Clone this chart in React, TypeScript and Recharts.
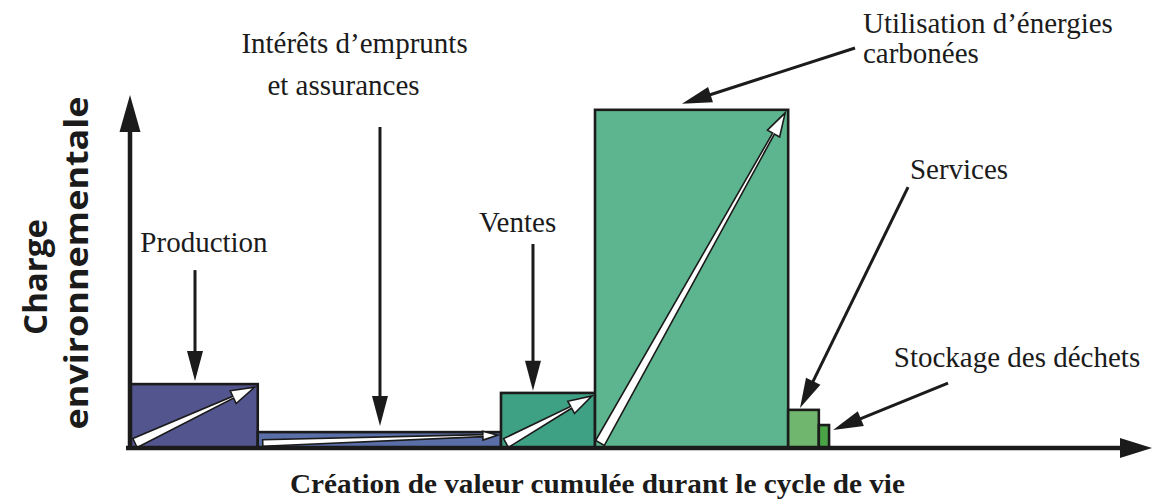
import React from 'react';
import { ComposedChart, XAxis, YAxis, ReferenceArea, ReferenceLine, ReferenceDot } from 'recharts';

// life-cycle stages: width = share of cumulated value, height = environmental load
const STAGES = ['Production', 'Intérêts', 'Ventes', 'Utilisation', 'Services', 'Stockage'];
const WIDTHS = [12.5, 23.8, 9.2, 18.9, 3.0, 1.0];
const HEIGHTS = [18.1, 4.5, 15.6, 95.8, 10.8, 6.5];
const HAS_ARROW = [true, true, true, true, false, false];

// callouts (data coordinates): arrow tail -> arrow tip
const CALLOUT_FROM = [
  [6.36, 50.4],
  [24.46, 90.9],
  [39.43, 57.8],
  [70.94, 113.3],
  [76.13, 73.9],
  [80.04, 18.4],
];
const CALLOUT_TO = [
  [6.36, 19.0],
  [24.46, 6.2],
  [39.43, 16.2],
  [54.01, 97.5],
  [65.56, 11.3],
  [68.79, 5.1],
];

const LABELS = [
  'Production',
  'Intérêts d’emprunts',
  'et assurances',
  'Ventes',
  'Utilisation d’énergies',
  'carbonées',
  'Services',
  'Stockage des déchets',
];
const LABEL_X = [7.24, 21.97, 20.89, 37.92, 71.72, 71.72, 81.12, 86.79];
const LABEL_Y = [55.5, 111.9, 100.0, 61.2, 117.56, 109.07, 76.2, 22.95];
const LABEL_ANCHOR = ['middle', 'middle', 'middle', 'middle', 'start', 'start', 'middle', 'middle'];

const FILLS = ['#53558f', '#5a6ea8', '#3fa184', '#5db58f', '#70b66e', '#4aa445'];
const INK = '#1b1b1b';
const SERIF = "'Liberation Serif', 'Times New Roman', serif";
const SANS = "'Open Sans', sans-serif";

const STARTS = WIDTHS.map((_, i) => WIDTHS.slice(0, i).reduce((a, b) => a + b, 0));

function dir(x1: number, y1: number, x2: number, y2: number) {
  const dx = x2 - x1;
  const dy = y2 - y1;
  const len = Math.hypot(dx, dy) || 1;
  return { ux: dx / len, uy: dy / len, nx: -dy / len, ny: dx / len };
}

const WhiteArrow = ({ x1, y1, x2, y2, tw, hw }: any) => {
  const { ux, uy, nx, ny } = dir(x1, y1, x2, y2);
  const hl = hw * 3.4;
  const bx = x2 - ux * hl;
  const by = y2 - uy * hl;
  const pts = [
    [x1 + nx * tw, y1 + ny * tw],
    [bx + nx * 1, by + ny * 1],
    [bx + nx * hw, by + ny * hw],
    [x2, y2],
    [bx - nx * hw, by - ny * hw],
    [bx - nx * 1, by - ny * 1],
    [x1 - nx * tw, y1 - ny * tw],
  ];
  return (
    <polygon
      points={pts.map((p) => p.join(',')).join(' ')}
      fill="#ffffff"
      stroke={INK}
      strokeWidth={1.6}
      strokeLinejoin="miter"
    />
  );
};

const StageRect = (props: any) => {
  const { x, y, width, height, index } = props;
  const hw = Math.min(7, height * 0.28);
  const tw = Math.min(5, height * 0.2);
  return (
    <g>
      <rect x={x} y={y} width={width} height={height} fill={FILLS[index]} stroke={INK} strokeWidth={2.6} />
      {HAS_ARROW[index] && (
        <WhiteArrow x1={x + 5} y1={y + height - 5} x2={x + width - 3} y2={y + 3} tw={tw} hw={hw} />
      )}
    </g>
  );
};

const BlackArrow = ({ x1, y1, x2, y2, width = 3, hl = 30, hw = 8 }: any) => {
  const { ux, uy, nx, ny } = dir(x1, y1, x2, y2);
  const bx = x2 - ux * hl;
  const by = y2 - uy * hl;
  return (
    <g>
      <line x1={x1} y1={y1} x2={bx + ux * 2} y2={by + uy * 2} stroke={INK} strokeWidth={width} />
      <polygon
        points={`${x2},${y2} ${bx + nx * hw},${by + ny * hw} ${bx - nx * hw},${by - ny * hw}`}
        fill={INK}
      />
    </g>
  );
};

const Caption = ({ cx, cy, text, anchor, rotate, size, family, weight, length }: any) => (
  <text
    x={cx}
    y={cy}
    textAnchor={anchor}
    fontFamily={family}
    fontSize={size}
    fontWeight={weight}
    fill={INK}
    transform={rotate ? `rotate(-90 ${cx} ${cy})` : undefined}
    textLength={length}
    lengthAdjust={length ? 'spacingAndGlyphs' : undefined}
    dominantBaseline={rotate ? 'central' : undefined}
  >
    {text}
  </text>
);

export default function App() {
  return (
    <div style={{ position: 'absolute', left: 0, top: 0, width: 1155, height: 499, background: '#fff' }}>
      <ComposedChart width={1155} height={499} data={[]} margin={{ top: 95, right: 3, bottom: 51, left: 130 }}>
        <XAxis type="number" dataKey="x" domain={[0, 100]} hide allowDataOverflow />
        <YAxis type="number" domain={[0, 100]} hide allowDataOverflow />

        {STAGES.map((s, i) => (
          <ReferenceArea
            key={s}
            x1={STARTS[i]}
            x2={STARTS[i] + WIDTHS[i]}
            y1={0}
            y2={HEIGHTS[i]}
            ifOverflow="visible"
            shape={(p: any) => <StageRect {...p} index={i} />}
          />
        ))}

        {/* axes with arrow heads */}
        <ReferenceLine
          segment={[{ x: 0, y: 0 }, { x: 100, y: 0 }]}
          ifOverflow="visible"
          shape={(p: any) => <BlackArrow {...p} x1={p.x1 - 4} width={4.5} hl={32} hw={10} />}
        />
        <ReferenceLine
          segment={[{ x: 0, y: 0 }, { x: 0, y: 100 }]}
          ifOverflow="visible"
          shape={(p: any) => <BlackArrow {...p} y1={p.y1 + 2} width={4.5} hl={37} hw={10.5} />}
        />

        {CALLOUT_FROM.map((f, i) => (
          <ReferenceLine
            key={`c${i}`}
            segment={[{ x: f[0], y: f[1] }, { x: CALLOUT_TO[i][0], y: CALLOUT_TO[i][1] }]}
            ifOverflow="visible"
            shape={(p: any) => <BlackArrow {...p} width={3} hl={30} hw={8} />}
          />
        ))}

        {LABELS.map((t, i) => (
          <ReferenceDot
            key={`l${i}`}
            x={LABEL_X[i]}
            y={LABEL_Y[i]}
            ifOverflow="visible"
            shape={(p: any) => (
              <Caption cx={p.cx} cy={p.cy} text={t} anchor={LABEL_ANCHOR[i]} size={29} family={SERIF} />
            )}
          />
        ))}

        {/* axis titles */}
        <ReferenceDot
          x={45.74}
          y={-12.75}
          ifOverflow="visible"
          shape={(p: any) => (
            <Caption
              cx={p.cx}
              cy={p.cy}
              text="Création de valeur cumulée durant le cycle de vie"
              anchor="middle"
              size={27}
              weight="bold"
              family={SERIF}
              length={615}
            />
          )}
        />
        <ReferenceDot
          x={-9.3}
          y={48.44}
          ifOverflow="visible"
          shape={(p: any) => (
            <Caption cx={p.cx} cy={p.cy} text="Charge" anchor="middle" rotate size={33} weight="bold" family={SANS} />
          )}
        />
        <ReferenceDot
          x={-5.38}
          y={52.41}
          ifOverflow="visible"
          shape={(p: any) => (
            <Caption
              cx={p.cx}
              cy={p.cy}
              text="environnementale"
              anchor="middle"
              rotate
              size={33}
              weight="bold"
              family={SANS}
              length={333}
            />
          )}
        />
      </ComposedChart>
    </div>
  );
}
